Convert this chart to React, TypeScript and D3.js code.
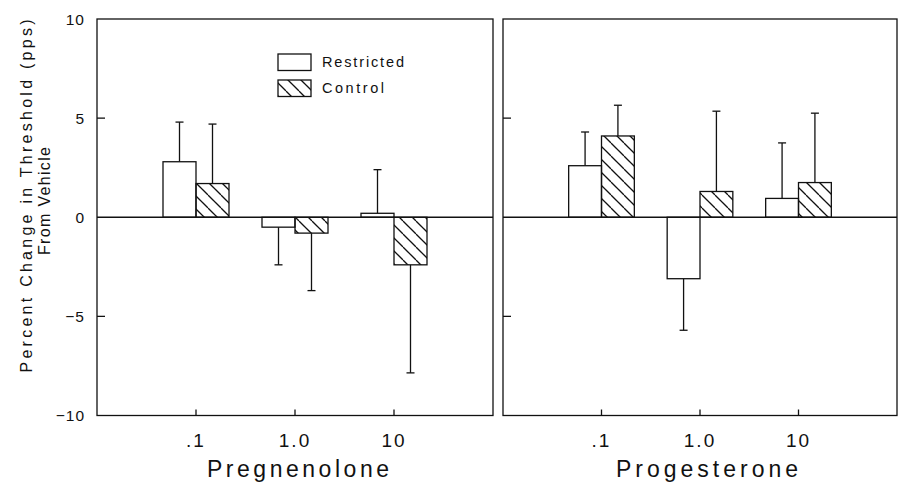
import React from "react";
import * as d3 from "d3";

const categories = [".1", "1.0", "10"];
const panels = ["Pregnenolone", "Progesterone"];
const seriesNames = ["Restricted", "Control"];

const pregRestricted = [2.8, -0.5, 0.2];
const pregRestrictedErr = [2.0, 1.9, 2.2];
const pregControl = [1.7, -0.8, -2.4];
const pregControlErr = [3.0, 2.9, 5.45];

const progRestricted = [2.6, -3.1, 0.95];
const progRestrictedErr = [1.7, 2.6, 2.8];
const progControl = [4.1, 1.3, 1.75];
const progControlErr = [1.55, 4.05, 3.5];

const yTicks = [-10, -5, 0, 5, 10];
const yLabels = ["\u221210", "\u22125", "0", "5", "10"];

const FONT = "'Liberation Sans', Arial, Helvetica, sans-serif";

export default function App() {
  const y = d3.scaleLinear().domain([-10, 10]).range([415.5, 19]);
  const panelRanges: [number, number][] = [
    [97, 493],
    [503, 897],
  ];
  const data = [
    { r: pregRestricted, re: pregRestrictedErr, c: pregControl, ce: pregControlErr },
    { r: progRestricted, re: progRestrictedErr, c: progControl, ce: progControlErr },
  ];
  const titleX = [298, 707];
  const sw = 1.3;

  return (
    <svg
      width={900}
      height={484}
      style={{ position: "absolute", left: 0, top: 0, background: "#fff" }}
      fontFamily={FONT}
    >
      <defs>
        <pattern id="hatch" patternUnits="userSpaceOnUse" width={13} height={13}>
          <line x1={0} y1={0} x2={13} y2={13} stroke="#111" strokeWidth={1.3} />
          <line x1={-13} y1={0} x2={0} y2={13} stroke="#111" strokeWidth={1.3} />
          <line x1={13} y1={0} x2={26} y2={13} stroke="#111" strokeWidth={1.3} />
        </pattern>
      </defs>
      <rect x={0} y={0} width={900} height={484} fill="#fff" />

      {/* Y axis title */}
      <text
        transform={`translate(31.5,196) rotate(-90)`}
        textAnchor="middle"
        fontSize={16}
        fill="#111"
        textLength={353}
        lengthAdjust="spacing"
      >
        Percent Change in Threshold (pps)
      </text>
      <text
        transform={`translate(50,201) rotate(-90)`}
        textAnchor="middle"
        fontSize={16}
        fill="#111"
        textLength={108}
        lengthAdjust="spacing"
      >
        From Vehicle
      </text>

      {/* Y tick labels */}
      {yTicks.map((t, i) => (
        <text
          key={t}
          x={85}
          y={y(t) + 5.5}
          textAnchor="end"
          fontSize={15.5}
          fill="#111"
          letterSpacing={1}
        >
          {yLabels[i]}
        </text>
      ))}

      {panels.map((name, p) => {
        const [x0, x1] = panelRanges[p];
        const x = d3.scaleLinear().domain([0, 4]).range([x0, x1]);
        const bw = x(1 / 3) - x(0);
        const d = data[p];
        const y0 = y(0);
        return (
          <g key={name}>
            {categories.map((cat, i) => {
              const center = x(i + 1);
              const items = [
                { v: d.r[i], e: d.re[i], xs: center - bw, fill: "#fff" },
                { v: d.c[i], e: d.ce[i], xs: center, fill: "url(#hatch)" },
              ];
              return (
                <g key={cat}>
                  {items.map((it, k) => {
                    const top = y(Math.max(0, it.v));
                    const bot = y(Math.min(0, it.v));
                    const cx = it.xs + bw / 2;
                    const ends = it.v >= 0 ? [top, y(it.v + it.e)] : [bot, y(it.v - it.e)];
                    return (
                      <g key={k}>
                        <line x1={cx} x2={cx} y1={ends[0]} y2={ends[1]} stroke="#111" strokeWidth={sw} />
                        <line x1={cx - 4} x2={cx + 4} y1={ends[1]} y2={ends[1]} stroke="#111" strokeWidth={sw} />
                        <rect
                          x={it.xs}
                          y={top}
                          width={bw}
                          height={bot - top}
                          fill={it.fill}
                          stroke="#111"
                          strokeWidth={sw}
                        />
                      </g>
                    );
                  })}
                </g>
              );
            })}

            <line x1={x0} x2={x1} y1={y0} y2={y0} stroke="#111" strokeWidth={sw} />

            <rect
              x={x0}
              y={y(10)}
              width={x1 - x0}
              height={y(-10) - y(10)}
              fill="none"
              stroke="#111"
              strokeWidth={sw}
            />

            {[5, -5].map((t) => (
              <line key={t} x1={x0} x2={x0 + 8} y1={y(t)} y2={y(t)} stroke="#111" strokeWidth={sw} />
            ))}

            {categories.map((cat, i) => (
              <g key={cat}>
                <line
                  x1={x(i + 1)}
                  x2={x(i + 1)}
                  y1={y(-10)}
                  y2={y(-10) - 6}
                  stroke="#111"
                  strokeWidth={sw}
                />
                <text
                  x={x(i + 1)}
                  y={447}
                  textAnchor="middle"
                  fontSize={19}
                  fill="#111"
                  letterSpacing={2}
                >
                  {cat}
                </text>
              </g>
            ))}

            <text
              x={titleX[p]}
              y={477}
              textAnchor="middle"
              fontSize={23}
              fill="#111"
              textLength={182}
              lengthAdjust="spacing"
            >
              {name}
            </text>
          </g>
        );
      })}

      {seriesNames.map((s, i) => (
        <g key={s}>
          <rect
            x={278}
            y={54 + i * 26}
            width={33}
            height={16.5}
            fill={i === 0 ? "#fff" : "url(#hatch)"}
            stroke="#111"
            strokeWidth={sw}
          />
          <text
            x={322}
            y={67 + i * 26}
            fontSize={14.5}
            fill="#111"
            textLength={i === 0 ? 82 : 62}
            lengthAdjust="spacing"
          >
            {s}
          </text>
        </g>
      ))}
    </svg>
  );
}
